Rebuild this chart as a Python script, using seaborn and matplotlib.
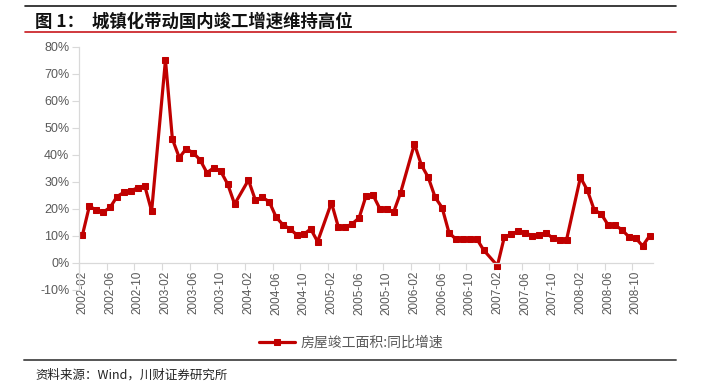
import numpy as np
import pandas as pd
import seaborn as sns
import matplotlib.pyplot as plt
from matplotlib.lines import Line2D
from matplotlib.ticker import FixedLocator, FuncFormatter

# monthly YoY growth of completed floor area (%), Feb..Dec each year (no January data)
y2002 = [10.3, 21.0, 19.4, 18.7, 20.5, 24.5, 26.1, 26.6, 27.8, 28.5, 19.1]
y2003 = [75.1, 45.8, 38.9, 42.2, 40.7, 38.1, 33.3, 35.2, 33.8, 29.1, 21.7]
y2004 = [30.6, 23.2, 24.2, 22.6, 16.9, 14.0, 12.5, 10.3, 10.5, 12.5, 7.8]
y2005 = [22.2, 13.2, 13.1, 14.4, 16.6, 24.7, 25.1, 20.0, 19.8, 18.8, 25.9]
y2006 = [44.0, 36.2, 31.6, 24.2, 20.4, 11.1, 8.7, 8.9, 8.6, 8.9, 4.7]
y2007 = [-1.1, 9.5, 10.5, 11.7, 11.1, 10.0, 10.3, 11.1, 9.1, 8.5, 8.5]
y2008 = [31.6, 26.9, 19.5, 18.1, 14.0, 13.9, 12.2, 9.6, 9.1, 6.2, 9.9]
years = [2002, 2003, 2004, 2005, 2006, 2007, 2008]
series_name = "房屋竣工面积:同比增速"
y_ticks = [-10, 0, 10, 20, 30, 40, 50, 60, 70, 80]

all_months = pd.period_range("2002-02", "2008-12", freq="M")
months = all_months[all_months.month != 1]
values = y2002 + y2003 + y2004 + y2005 + y2006 + y2007 + y2008
df = pd.DataFrame({
    "pos": [all_months.get_loc(m) for m in months],
    "val": values,
})

sns.set_style("white")
plt.rcParams["font.family"] = ["Liberation Sans", "Noto Sans CJK SC", "DejaVu Sans"]

red = "#C00000"
grey_txt = "#595959"
grey_ax = "#D9D9D9"

fig = plt.figure(figsize=(7.21, 3.88), dpi=100)
ax = fig.add_axes([0.1096, 0.2534, 0.7961, 0.6262])

sns.lineplot(data=df, x="pos", y="val", ax=ax, color=red, linewidth=2.3,
             marker="s", markersize=4.2, markeredgecolor=red,
             label=series_name, legend=False)

ax.set_xlim(-0.5, len(all_months) - 0.5)
ax.set_ylim(-10, 80)
ax.set_xlabel("")
ax.set_ylabel("")

ax.yaxis.set_major_locator(FixedLocator(y_ticks))
ax.yaxis.set_major_formatter(FuncFormatter(lambda v, p: f"{v:.0f}%"))
ax.tick_params(axis="y", which="major", length=5, width=0.8, color=grey_ax,
               labelsize=9, labelcolor=grey_txt, pad=2, left=True)

label_pos = list(range(0, len(all_months), 4))
ax.set_xticks(label_pos)
ax.set_xticklabels([str(all_months[i]) for i in label_pos])
ax.set_xticks([p - 0.5 for p in label_pos], minor=True)
ax.tick_params(axis="x", which="major", length=0, labelsize=8.5,
               labelcolor=grey_txt, pad=6, labelrotation=90)
ax.tick_params(axis="x", which="minor", length=5, width=0.8, color=grey_ax,
               bottom=True)

for s in ["top", "right"]:
    ax.spines[s].set_visible(False)
ax.spines["bottom"].set_position(("data", 0))
for s in ["left", "bottom"]:
    ax.spines[s].set_color(grey_ax)
    ax.spines[s].set_linewidth(0.9)
ax.grid(False)

leg = fig.legend(handles=ax.get_lines()[:1], labels=[series_name],
                 loc="center", bbox_to_anchor=(0.487, 0.116), frameon=False,
                 fontsize=10, handlelength=2.6, handletextpad=0.4)
for t in leg.get_texts():
    t.set_color(grey_txt)
    t.set_family(["Noto Sans CJK SC", "DejaVu Sans"])

# header / footer rules
fig.add_artist(Line2D([0.0347, 0.9376], [0.9845, 0.9845], color="#1a1a1a", lw=1.2))
fig.add_artist(Line2D([0.0347, 0.9376], [0.9175, 0.9175], color="#C8161D", lw=1.2))
fig.add_artist(Line2D([0.0333, 0.9376], [0.0722, 0.0722], color="#555555", lw=1.4))

fig.text(0.0485, 0.944, "图 1：  城镇化带动国内竣工增速维持高位", fontsize=12.5,
         fontweight="bold", va="center", ha="left", color="#111111",
         family=["Noto Sans CJK SC", "DejaVu Sans"])
fig.text(0.0485, 0.033, "资料来源：Wind，川财证券研究所", fontsize=9,
         va="center", ha="left", color="#222222", fontstyle="italic",
         family=["Noto Sans CJK SC", "DejaVu Sans"])

fig.savefig("out.png", dpi=100)
